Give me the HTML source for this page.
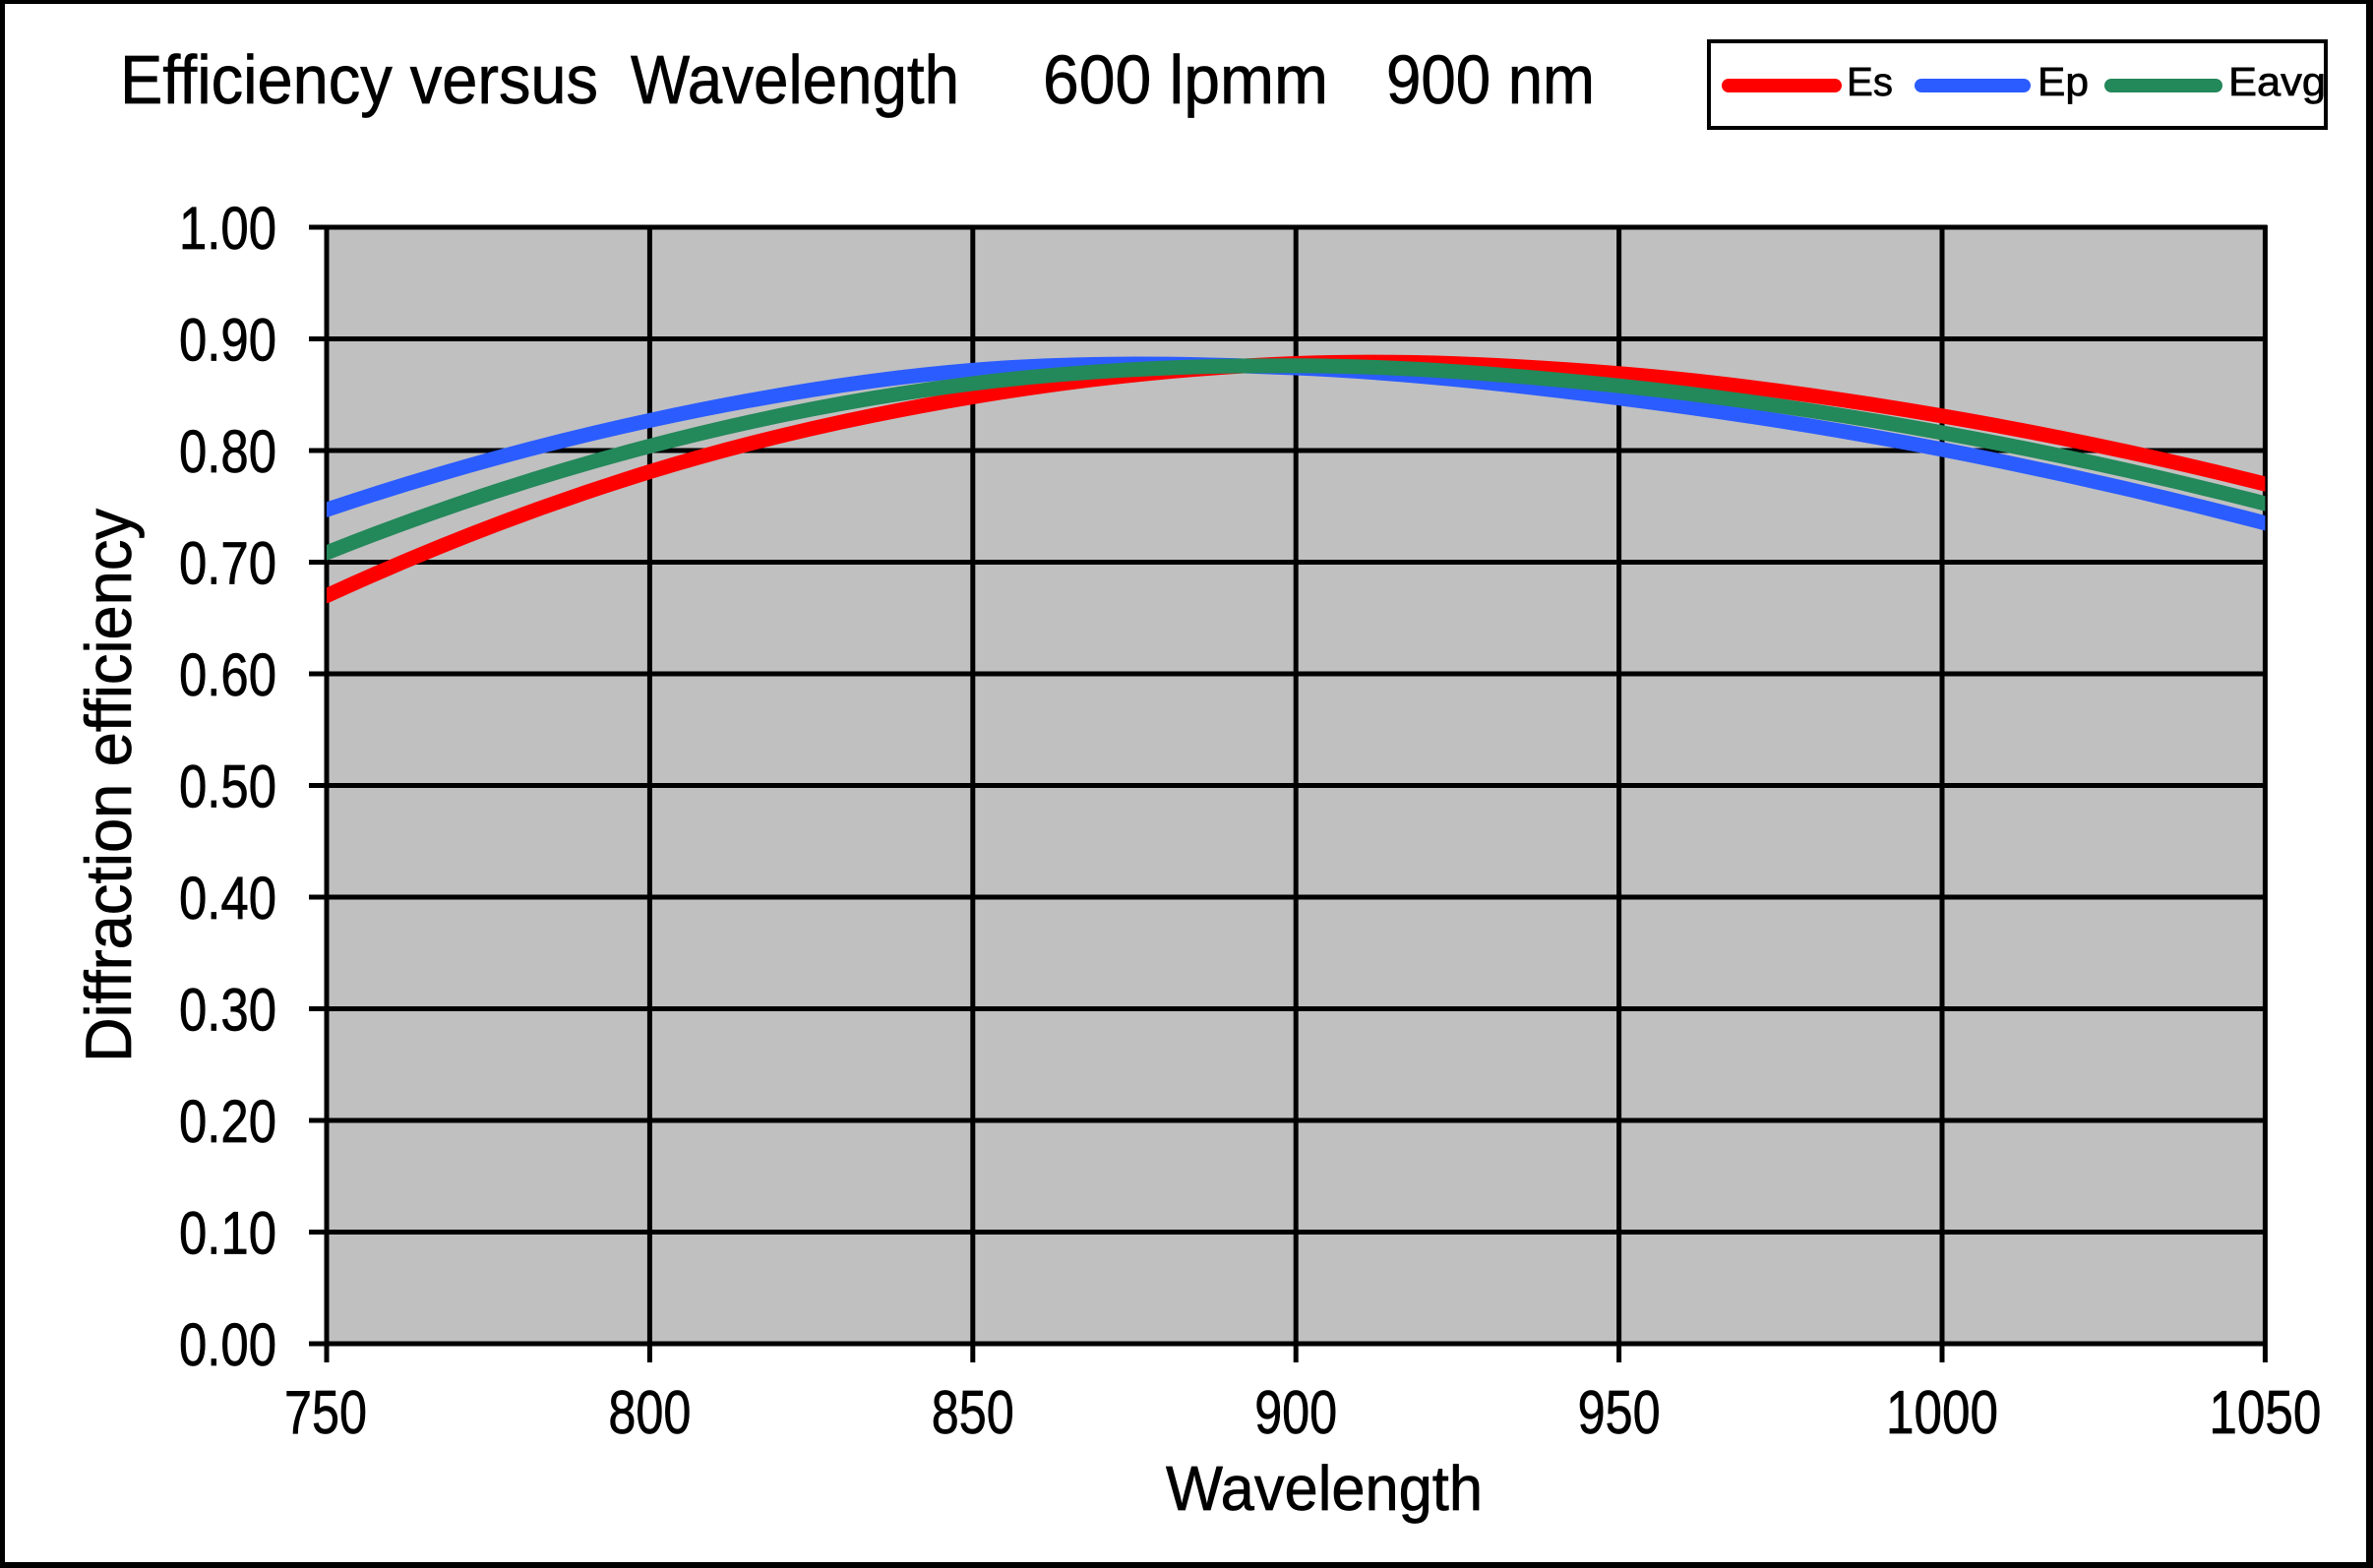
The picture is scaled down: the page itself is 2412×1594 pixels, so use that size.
<!DOCTYPE html>
<html>
<head>
<meta charset="utf-8">
<style>
  html,body{margin:0;padding:0;background:#fff;}
  svg{display:block;}
  text{font-family:"Liberation Sans",Arial,sans-serif;fill:#000;stroke:#000;stroke-width:0.7;}
</style>
</head>
<body>
<svg width="2412" height="1594" viewBox="0 0 2412 1594" xmlns="http://www.w3.org/2000/svg">
  <defs>
    <clipPath id="plotclip">
      <rect x="332" y="231" width="1970.4" height="1135"/>
    </clipPath>
  </defs>
  <rect x="0" y="0" width="2412" height="1594" fill="#ffffff"/>
  <!-- outer border -->
  <rect x="0" y="0" width="2412" height="4" fill="#000"/>
  <rect x="0" y="0" width="5" height="1594" fill="#000"/>
  <rect x="0" y="1588" width="2412" height="6" fill="#000"/>
  <rect x="2405" y="0" width="7" height="1594" fill="#000"/>

  <!-- title -->
  <text x="122" y="105" font-size="70" textLength="486" lengthAdjust="spacingAndGlyphs">Efficiency versus</text>
  <text x="641" y="105" font-size="70" textLength="334" lengthAdjust="spacingAndGlyphs">Wavelength</text>
  <text x="1060" y="105" font-size="70" textLength="290" lengthAdjust="spacingAndGlyphs">600 lpmm</text>
  <text x="1409" y="105" font-size="70" textLength="212" lengthAdjust="spacingAndGlyphs">900 nm</text>

  <!-- legend -->
  <rect x="1737" y="42" width="627" height="88" fill="#fff" stroke="#000" stroke-width="4"/>
  <line x1="1757" y1="87" x2="1865" y2="87" stroke="#ff0000" stroke-width="14" stroke-linecap="round"/>
  <text x="1877" y="97" font-size="41" textLength="47" lengthAdjust="spacingAndGlyphs">Es</text>
  <line x1="1953" y1="87" x2="2057" y2="87" stroke="#2b5cff" stroke-width="14" stroke-linecap="round"/>
  <text x="2071" y="97" font-size="41" textLength="52" lengthAdjust="spacingAndGlyphs">Ep</text>
  <line x1="2146" y1="87" x2="2252" y2="87" stroke="#23885a" stroke-width="14" stroke-linecap="round"/>
  <text x="2265" y="97" font-size="41" textLength="99" lengthAdjust="spacingAndGlyphs">Eavg</text>

  <!-- plot background -->
  <rect x="332" y="231" width="1970.4" height="1135" fill="#c0c0c0"/>

  <!-- horizontal gridlines + y ticks -->
  <g stroke="#000" stroke-width="5">
    <line x1="314" y1="1366" x2="2304.5" y2="1366"/>
    <line x1="314" y1="1252.5" x2="2302.4" y2="1252.5"/>
    <line x1="314" y1="1139" x2="2302.4" y2="1139"/>
    <line x1="314" y1="1025.5" x2="2302.4" y2="1025.5"/>
    <line x1="314" y1="912" x2="2302.4" y2="912"/>
    <line x1="314" y1="798.5" x2="2302.4" y2="798.5"/>
    <line x1="314" y1="685" x2="2302.4" y2="685"/>
    <line x1="314" y1="571.5" x2="2302.4" y2="571.5"/>
    <line x1="314" y1="458" x2="2302.4" y2="458"/>
    <line x1="314" y1="344.5" x2="2302.4" y2="344.5"/>
    <line x1="314" y1="231" x2="2304.5" y2="231"/>
  </g>
  <!-- vertical gridlines + x ticks -->
  <g stroke="#000" stroke-width="5">
    <line x1="332" y1="229" x2="332" y2="1385"/>
    <line x1="660.4" y1="231" x2="660.4" y2="1385"/>
    <line x1="988.8" y1="231" x2="988.8" y2="1385"/>
    <line x1="1317.2" y1="231" x2="1317.2" y2="1385"/>
    <line x1="1645.6" y1="231" x2="1645.6" y2="1385"/>
    <line x1="1974" y1="231" x2="1974" y2="1385"/>
    <line x1="2302.4" y1="229" x2="2302.4" y2="1385"/>
  </g>

  <!-- series -->
  <g clip-path="url(#plotclip)" fill="none" stroke-width="15" stroke-linecap="round" stroke-linejoin="round">
    <path stroke="#ff0000" d="M332,605.6 C441.5,555.3 550.9,513.3 660.4,479.6 C769.9,445.9 879.3,421.9 988.8,403.5 C1098.3,385.2 1207.7,373.5 1317.2,369.5 C1426.7,365.5 1536.1,370.8 1645.6,379.7 C1755.1,388.6 1864.5,404.1 1974,422.8 C2083.5,441.5 2192.9,464.6 2302.4,492.1"/>
    <path stroke="#2b5cff" d="M332,518.2 C441.5,481.3 550.9,451.1 660.4,427.4 C769.9,403.75 879.3,385.2 988.8,376.3 C1098.3,367.4 1207.7,369.3 1317.2,374 C1426.7,378.7 1536.1,390.9 1645.6,404.7 C1755.1,418.5 1864.5,435.7 1974,456.9 C2083.5,478.1 2192.9,503.05 2302.4,531.8"/>
    <path stroke="#23885a" d="M332,561.9 C441.5,518.3 550.9,482.2 660.4,453.5 C769.9,424.8 879.3,403.55 988.8,389.9 C1098.3,376.3 1207.7,371.4 1317.2,371.75 C1426.7,372.1 1536.1,380.85 1645.6,392.2 C1755.1,403.55 1864.5,419.9 1974,439.85 C2083.5,459.8 2192.9,483.8 2302.4,511.95"/>
  </g>

  <!-- y tick labels -->
  <g font-size="61" text-anchor="end">
    <text x="281" y="253" textLength="99" lengthAdjust="spacingAndGlyphs">1.00</text>
    <text x="281" y="366.5" textLength="99" lengthAdjust="spacingAndGlyphs">0.90</text>
    <text x="281" y="480" textLength="99" lengthAdjust="spacingAndGlyphs">0.80</text>
    <text x="281" y="593.5" textLength="99" lengthAdjust="spacingAndGlyphs">0.70</text>
    <text x="281" y="707" textLength="99" lengthAdjust="spacingAndGlyphs">0.60</text>
    <text x="281" y="820.5" textLength="99" lengthAdjust="spacingAndGlyphs">0.50</text>
    <text x="281" y="934" textLength="99" lengthAdjust="spacingAndGlyphs">0.40</text>
    <text x="281" y="1047.5" textLength="99" lengthAdjust="spacingAndGlyphs">0.30</text>
    <text x="281" y="1161" textLength="99" lengthAdjust="spacingAndGlyphs">0.20</text>
    <text x="281" y="1274.5" textLength="99" lengthAdjust="spacingAndGlyphs">0.10</text>
    <text x="281" y="1388" textLength="99" lengthAdjust="spacingAndGlyphs">0.00</text>
  </g>

  <!-- x tick labels -->
  <g font-size="62" text-anchor="middle">
    <text x="331" y="1457" textLength="84" lengthAdjust="spacingAndGlyphs">750</text>
    <text x="660.4" y="1457" textLength="84" lengthAdjust="spacingAndGlyphs">800</text>
    <text x="988.8" y="1457" textLength="84" lengthAdjust="spacingAndGlyphs">850</text>
    <text x="1317.2" y="1457" textLength="84" lengthAdjust="spacingAndGlyphs">900</text>
    <text x="1645.6" y="1457" textLength="84" lengthAdjust="spacingAndGlyphs">950</text>
    <text x="1974" y="1457" textLength="114" lengthAdjust="spacingAndGlyphs">1000</text>
    <text x="2302.4" y="1457" textLength="114" lengthAdjust="spacingAndGlyphs">1050</text>
  </g>

  <!-- axis titles -->
  <text x="1185" y="1535" font-size="64" textLength="322" lengthAdjust="spacingAndGlyphs">Wavelength</text>
  <text transform="translate(133,1080) rotate(-90)" x="0" y="0" font-size="66" textLength="563" lengthAdjust="spacingAndGlyphs">Diffraction  efficiency</text>
</svg>
</body>
</html>
